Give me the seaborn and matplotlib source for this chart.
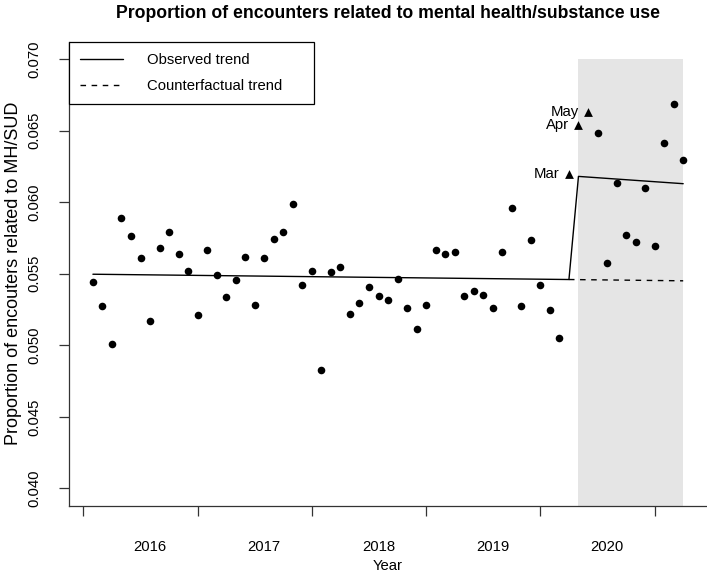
import matplotlib
matplotlib.use("Agg")
import matplotlib.pyplot as plt
from matplotlib.lines import Line2D
import seaborn as sns
import pandas as pd

# Monthly proportions, month 1 = Jan 2016 ... month 63 = Mar 2021
months = list(range(1, 64))
proportion = [
    0.05444, 0.05277, 0.05009, 0.05888, 0.05765, 0.05612, 0.05170, 0.05677, 0.05793, 0.05635, 0.05518, 0.05214,
    0.05665, 0.05490, 0.05337, 0.05456, 0.05614, 0.05284, 0.05609, 0.05746, 0.05790, 0.05986, 0.05423, 0.05521,
    0.04830, 0.05516, 0.05551, 0.05221, 0.05298, 0.05407, 0.05342, 0.05316, 0.05462, 0.05263, 0.05116, 0.05279,
    0.05668, 0.05637, 0.05649, 0.05342, 0.05382, 0.05354, 0.05263, 0.05651, 0.05958, 0.05274, 0.05739, 0.05419,
    0.05249, 0.05054, 0.06200, 0.06540, 0.06630, 0.06481, 0.05574, 0.06137, 0.05772, 0.05721, 0.06097, 0.05693,
    0.06418, 0.06690, 0.06298,
]

# early pandemic months drawn as triangles
highlight_months = [51, 52, 53]
highlight_labels = ["Mar", "Apr", "May"]

# fitted segmented trend (vertices) and counterfactual continuation
obs_trend_x = [1, 51, 52, 63]
obs_trend_y = [0.05497, 0.05460, 0.06181, 0.06130]
cf_trend_x = [51, 63]
cf_trend_y = [0.05460, 0.05451]

# shaded post-period
shade_x = [52, 63]
shade_top = 0.070

year_ticks = [0, 12, 24, 36, 48, 60]
year_label_pos = [7, 19, 31, 43, 55]
year_labels = ["2016", "2017", "2018", "2019", "2020"]
y_ticks = [0.040, 0.045, 0.050, 0.055, 0.060, 0.065, 0.070]

df = pd.DataFrame({"month": months, "proportion": proportion})
df["kind"] = ["tri" if m in highlight_months else "dot" for m in months]

sns.set_style("white")
plt.rcParams["font.family"] = ["Liberation Sans", "DejaVu Sans"]
plt.rcParams["text.color"] = "black"
plt.rcParams["axes.labelcolor"] = "black"
plt.rcParams["xtick.labelcolor"] = "black"
plt.rcParams["ytick.labelcolor"] = "black"

fig = plt.figure(figsize=(7.07, 5.76), dpi=100)
ax = fig.add_axes([69.3 / 707, 70.5 / 576, 637.5 / 707, 463.4 / 576])

ax.set_xlim(-1.48, 65.48)
ax.set_ylim(0.0388, 0.0712)

ax.fill_between(shade_x, ax.get_ylim()[0], shade_top, color="#e5e5e5", lw=0, zorder=0)

sns.lineplot(x=obs_trend_x, y=obs_trend_y, ax=ax, color="black", lw=1.0, estimator=None, sort=False)
sns.lineplot(x=cf_trend_x, y=cf_trend_y, ax=ax, color="black", lw=1.0, estimator=None,
             linestyle=(0, (4, 4)))

dots = df[df["kind"] == "dot"]
tris = df[df["kind"] == "tri"]
sns.scatterplot(data=dots, x="month", y="proportion", ax=ax, color="black", s=30, linewidth=0, zorder=3)
sns.scatterplot(data=tris, x="month", y="proportion", ax=ax, color="black", marker="^", s=40,
                linewidth=0, zorder=3)
for m, v, lab in zip(tris["month"], tris["proportion"], highlight_labels):
    ax.annotate(lab, (m, v), xytext=(-6.5, 0), textcoords="offset points",
                ha="right", va="center", fontsize=10.7, color="black")

# axes styling, base-R look
for s in ["top", "right"]:
    ax.spines[s].set_visible(False)
for s in ["left", "bottom"]:
    ax.spines[s].set_color("#333333")
    ax.spines[s].set_linewidth(0.9)

ax.set_xticks(year_ticks)
ax.set_xticklabels([])
ax.set_xticks(year_label_pos, minor=True)
ax.set_xticklabels(year_labels, minor=True)
ax.tick_params(axis="x", which="major", length=7, width=0.9, color="#333333", direction="out", bottom=True)
ax.tick_params(axis="x", which="minor", length=0, pad=24.5, labelsize=10.7, labelcolor="black")

ax.set_yticks(y_ticks)
ax.set_yticklabels([f"{t:.3f}" for t in y_ticks], rotation=90, va="center")
ax.tick_params(axis="y", length=7, width=0.9, color="#333333", direction="out", left=True,
               pad=13, labelsize=10.7, labelcolor="black")

ax.set_xlabel("Year", fontsize=10.7, color="black")
ax.xaxis.set_label_coords(0.5, -0.1144)
ax.set_ylabel("Proportion of encouters related to MH/SUD", fontsize=13, color="black")
ax.yaxis.set_label_coords(-0.0742, 0.5)
ax.text(0.5, 1.061, "Proportion of encounters related to mental health/substance use",
        transform=ax.transAxes, ha="center", va="center", fontsize=12.7, fontweight="bold",
        color="black")

handles = [Line2D([], [], color="black", lw=1.0),
           Line2D([], [], color="black", lw=1.0, linestyle=(0, (4, 4)))]
leg = ax.legend(handles, ["Observed trend", "Counterfactual trend"], loc="upper left",
                bbox_to_anchor=(0, 1, 0.384, 0), mode="expand", borderaxespad=0,
                fontsize=10.7, handlelength=2.85, handletextpad=1.6, borderpad=0.75,
                labelspacing=0.8, fancybox=False, framealpha=1)
leg.get_frame().set_edgecolor("black")
leg.get_frame().set_linewidth(0.9)
for t in leg.get_texts():
    t.set_color("black")

fig.savefig("out.png", dpi=100)
